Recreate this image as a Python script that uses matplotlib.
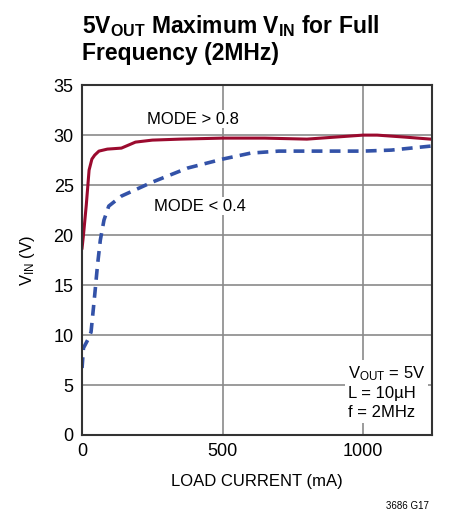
import matplotlib
matplotlib.use('Agg')
import matplotlib.pyplot as plt

plt.rcParams['font.family'] = ['Liberation Sans Narrow', 'Liberation Sans', 'DejaVu Sans']

# data
i_hi = [0, 5, 15, 25, 35, 45, 60, 90, 140, 165, 190, 250, 350, 500, 650, 800, 900, 1000, 1050, 1150, 1240]
v_hi = [18.7, 20.0, 23.0, 26.5, 27.6, 28.0, 28.4, 28.6, 28.7, 29.0, 29.3, 29.5, 29.6, 29.7, 29.7, 29.6, 29.8, 30.0, 30.0, 29.8, 29.6]
i_lo = [0, 5, 20, 32, 45, 55, 65, 78, 95, 140, 250, 375, 500, 600, 700, 800, 900, 1000, 1100, 1240]
v_lo = [6.7, 8.7, 9.5, 10.3, 14.0, 17.0, 19.5, 21.5, 22.9, 23.9, 25.3, 26.7, 27.6, 28.2, 28.4, 28.4, 28.4, 28.4, 28.5, 28.9]

fig = plt.figure(figsize=(4.61, 5.16), dpi=100)
ax = fig.add_axes([0.178, 0.157, 0.759, 0.678])

ax.plot(i_hi, v_hi, color='#9b0a2e', lw=2.2)
ax.plot(i_lo, v_lo, color='#3352a8', lw=2.6, linestyle=(0, (3, 2)))

ax.set_xlim(0, 1245)
ax.set_ylim(0, 35)
ax.set_xticks([0, 500, 1000])
ax.set_yticks(range(0, 36, 5))
ax.grid(True, color='#8a8a8a', lw=1.2)
ax.tick_params(length=0, labelsize=13, pad=6)
for s in ax.spines.values():
    s.set_color('#333333')
    s.set_linewidth(1.5)

ax.text(395, 31.6, 'MODE > 0.8', ha='center', va='center', fontsize=12,
        bbox=dict(facecolor='white', edgecolor='none', pad=1))
ax.text(420, 22.9, 'MODE < 0.4', ha='center', va='center', fontsize=12,
        bbox=dict(facecolor='white', edgecolor='none', pad=1))
ax.text(945, 1.5, '$\\mathregular{V_{OUT}}$ = 5V\nL = 10µH\nf = 2MHz', ha='left', va='bottom',
        fontsize=12, linespacing=1.3,
        bbox=dict(facecolor='white', edgecolor='none', pad=2))

ax.set_xlabel('LOAD CURRENT (mA)', fontsize=12, labelpad=10)
ax.set_ylabel('$\\mathregular{V_{IN}}$ (V)', fontsize=12, labelpad=12)

fig.text(0.178, 0.975, '$\\mathregular{5V_{OUT}}$ Maximum $\\mathregular{V_{IN}}$ for Full\nFrequency (2MHz)',
         ha='left', va='top', fontsize=16.5, fontweight='bold', linespacing=1.2)
fig.text(0.93, 0.01, '3686 G17', ha='right', va='bottom', fontsize=7)

fig.savefig('out.png', dpi=100)
